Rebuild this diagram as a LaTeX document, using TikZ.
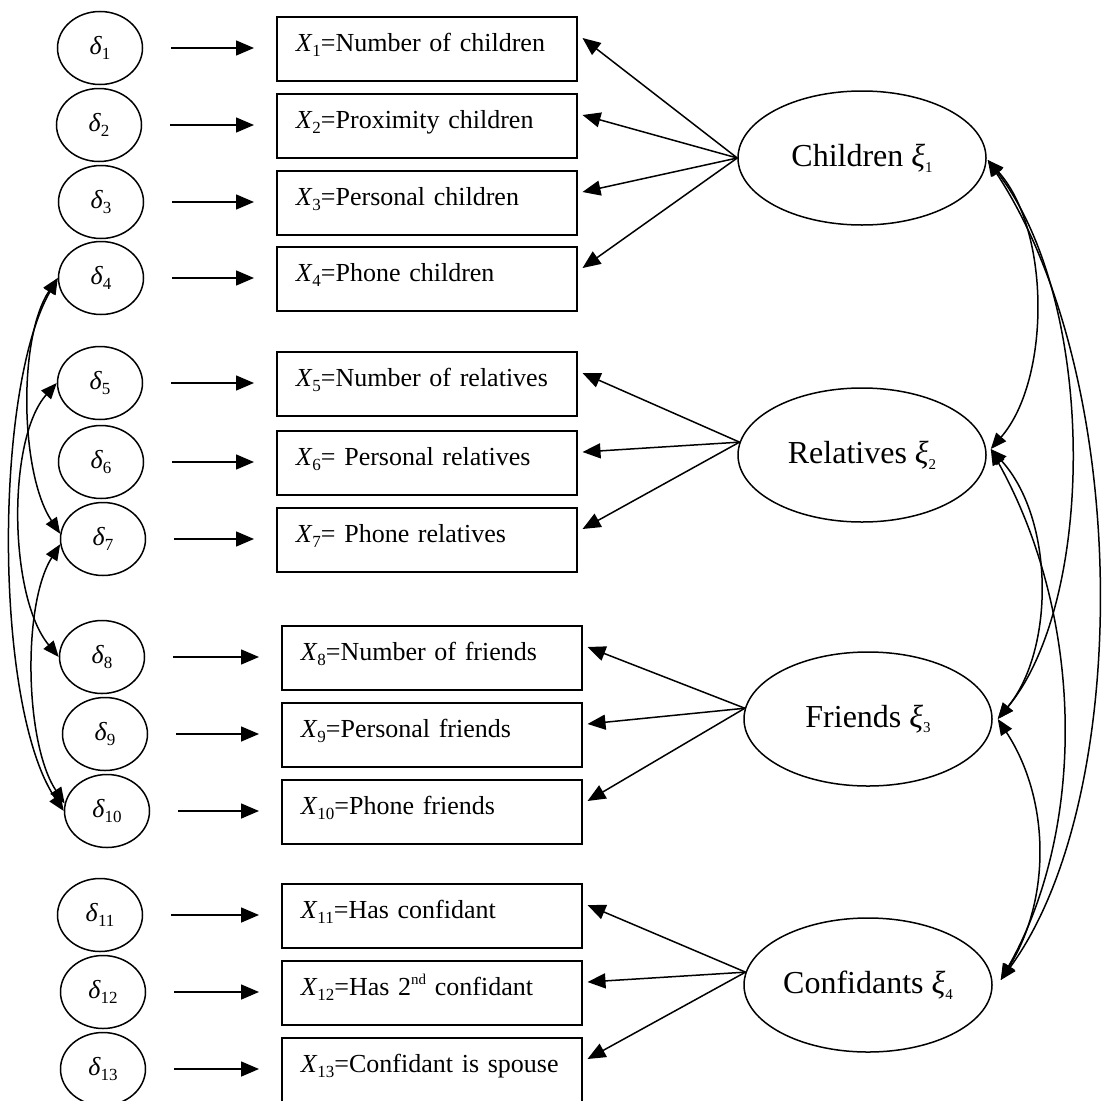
\documentclass[tikz,border=0pt]{standalone}
\usepackage{fontspec}
\setmainfont{Liberation Serif}
\usetikzlibrary{arrows.meta,calc,shapes.geometric}

% small lowered/raised indices
\newcommand\lowidx[2]{\raisebox{-0.18em}{\fontsize{#1}{#1}\selectfont #2}}
\newcommand\highidx[1]{\raisebox{0.45em}{\fontsize{15}{15}\selectfont #1}}
% variable labels
\newcommand\dlt[1]{\textit{δ}\lowidx{17}{#1}}
\newcommand\xv[1]{\textit{X}\lowidx{17}{#1}}
\newcommand\xil[1]{\textit{ξ}\lowidx{15}{#1}}

\begin{document}
\begin{tikzpicture}[x=1pt,y=-1pt,line width=1.5pt,
  err/.style={draw,ellipse,minimum width=85pt,minimum height=73pt,inner sep=0pt,
    font=\fontsize{26}{30}\selectfont},
  obs/.style={draw,rectangle,anchor=north west,text width=290pt,inner xsep=5pt,
    inner ysep=0pt,text height=35pt,text depth=29pt,align=left,
    font=\fontsize{26}{30}\selectfont,execute at begin node={\hspace*{14pt}}},
  lat/.style={draw,ellipse,minimum width=248pt,minimum height=134pt,inner sep=0pt,
    font=\fontsize{32}{36}\selectfont},
  load/.style={-{Triangle[length=18pt,width=15pt]}},
  errarr/.style={-{Triangle[length=18pt,width=15pt]},shorten <=28pt,shorten >=22pt},
  cov/.style={{Triangle[length=16pt,width=13pt]}-{Triangle[length=16pt,width=13pt]}},
]
\useasboundingbox (0,0) rectangle (1102,1100);

% measurement error terms
\node[err] (d1)  at (100,48)   {\dlt{1}};
\node[err] (d2)  at (99,125)   {\dlt{2}};
\node[err] (d3)  at (101,202)  {\dlt{3}};
\node[err] (d4)  at (101,278)  {\dlt{4}};
\node[err] (d5)  at (100,383)  {\dlt{5}};
\node[err] (d6)  at (101,462)  {\dlt{6}};
\node[err] (d7)  at (103,539)  {\dlt{7}};
\node[err] (d8)  at (102,657)  {\dlt{8}};
\node[err] (d9)  at (105,734)  {\dlt{9}};
\node[err] (d10) at (107,811)  {\dlt{10}};
\node[err] (d11) at (100,915)  {\dlt{11}};
\node[err] (d12) at (103,992)  {\dlt{12}};
\node[err] (d13) at (103,1069) {\dlt{13}};

% observed indicators
\node[obs] (b1)  at (276,16)   {\xv{1}=Number of children};
\node[obs] (b2)  at (276,93)   {\xv{2}=Proximity children};
\node[obs] (b3)  at (276,170)  {\xv{3}=Personal children};
\node[obs] (b4)  at (276,246)  {\xv{4}=Phone children};
\node[obs] (b5)  at (276,351)  {\xv{5}=Number of relatives};
\node[obs] (b6)  at (276,430)  {\xv{6}= Personal relatives};
\node[obs] (b7)  at (276,507)  {\xv{7}= Phone relatives};
\node[obs] (b8)  at (281,625)  {\xv{8}=Number of friends};
\node[obs] (b9)  at (281,702)  {\xv{9}=Personal friends};
\node[obs] (b10) at (281,779)  {\xv{10}=Phone friends};
\node[obs] (b11) at (281,883)  {\xv{11}=Has confidant};
\node[obs] (b12) at (281,960)  {\xv{12}=Has 2\highidx{nd} confidant};
\node[obs] (b13) at (281,1037) {\xv{13}=Confidant is spouse};

% latent factors
\node[lat] (C) at (862,158) {Children \xil{1}};
\node[lat] (R) at (862,455) {Relatives \xil{2}};
\node[lat] (F) at (868,719) {Friends \xil{3}};
\node[lat] (Q) at (868,985) {Confidants \xil{4}};

% error -> indicator paths
\foreach \i in {1,...,13}
  \draw[errarr] (d\i.east) -- (d\i.east -| b\i.west);

% factor loadings
\foreach \f/\a/\list in {C/180/{1,2,3,4},R/174/{5,6,7},F/175/{8,9,10},Q/174/{11,12,13}}
  \foreach \i in \list
    \draw[load] (\f.\a) -- ($(b\i.north east)+(5,22)$);

% factor covariances
\coordinate (cC) at ($(C.east)+(1,2)$);
\coordinate (cR) at ($(R.east)+(4,-6)$);
\coordinate (cF) at ($(F.east)+(5,0)$);
\coordinate (cQ) at ($(Q.east)+(8,-5)$);
\draw[cov] (cC) .. controls +(63,70)   and +(60,-69)   .. (cR);
\draw[cov] (cC) .. controls +(109,140) and +(99,-119)  .. (cF);
\draw[cov] (cC) .. controls +(145,220) and +(132,-180) .. (cQ);
\draw[cov] (cR) .. controls +(64,70)   and +(57,-69)   .. (cF);
\draw[cov] (cR) .. controls +(95,171)  and +(85,-150)  .. (cQ);
\draw[cov] (cF) .. controls +(53,81)   and +(50,-80)   .. (cQ);

% correlated measurement errors
\draw[cov] (d4.west)  .. controls +(-40,60)  and +(-40,-60)  .. (d7.173);
\draw[cov] (d4.west)  .. controls +(-64,112) and +(-70,-105) .. (d10.west);
\draw[cov] (d5.west)  .. controls +(-50,56)  and +(-50,-60)  .. (d8.west);
\draw[cov] (d7.187)   .. controls +(-38,60)  and +(-40,-60)  .. (d10.170);
\end{tikzpicture}
\end{document}
